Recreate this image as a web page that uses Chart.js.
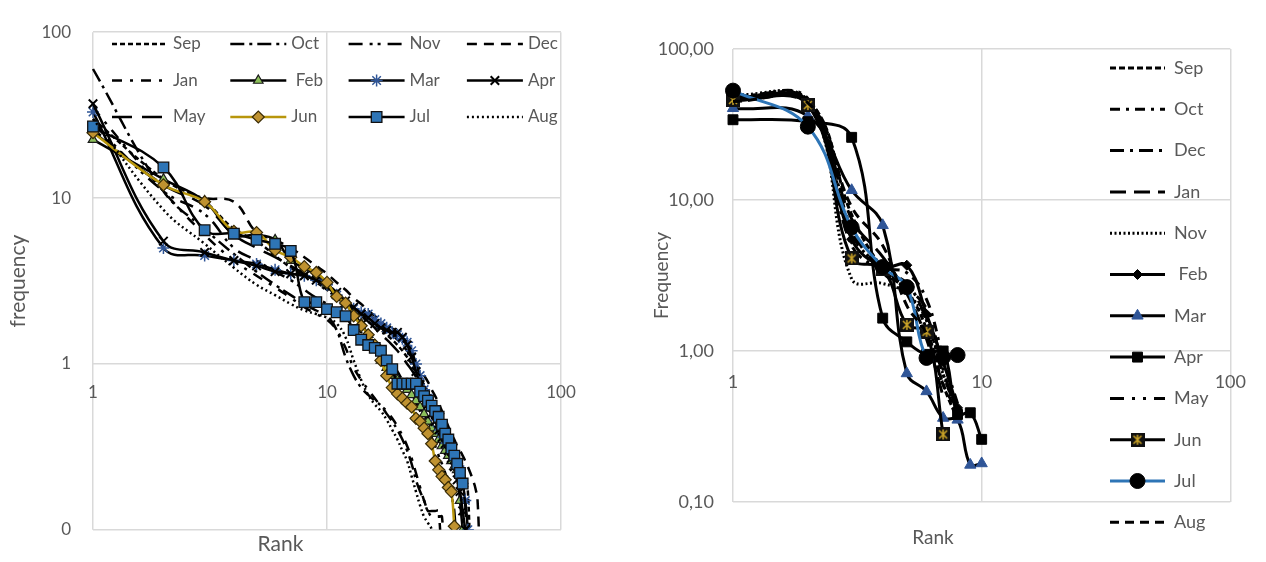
<!DOCTYPE html>
<html><head><meta charset="utf-8">
<script src="https://cdn.jsdelivr.net/npm/chart.js@4.4.1/dist/chart.umd.min.js"></script>
<style>
html,body{margin:0;padding:0;background:#fff;}
#wrap{position:relative;width:1266px;height:562px;overflow:hidden;background:#fff;}
#c1{position:absolute;left:0;top:0;}
#c2{position:absolute;left:620px;top:0;}
</style></head><body>
<div id="wrap"><canvas id="c1" width="620" height="562"></canvas><canvas id="c2" width="646" height="562"></canvas></div>
<script>
// ---------- DATA ----------
const months = ['Sep','Oct','Nov','Dec','Jan',' Feb','Mar','Apr','May','Jun','Jul','Aug'];
const rightLegendOrder = ['Sep','Oct','Dec','Jan','Nov',' Feb','Mar','Apr','May','Jun','Jul','Aug'];

const xTickValues = [1, 10, 100];
const xTickLabels = ['1', '10', '100'];
const yTickValues = [0.1, 1, 10, 100];
const leftYTickLabels = ['0', '1', '10', '100'];
const rightYTickLabels = ['0,10', '1,00', '10,00', '100,00'];

// Left panel: frequency by rank (rank = position in list, starting at 1)
const lSep = [30, 13, 9.5, 6.5, 5.5, 4.5, 3.8, 3.4, 3.1, 2.8, 2.5, 2.3, 2.1, 1.95, 1.8, 1.7, 1.6, 1.5, 1.4, 1.3, 1.2, 1.1, 1.0, 0.9, 0.82, 0.75, 0.68, 0.62, 0.56, 0.5, 0.45, 0.4, 0.36, 0.33, 0.3, 0.27, 0.25, 0.23, 0.2, 0.17, 0.06];
const lOct = [60, 11, 6.5, 4.6, 3.6, 3.0, 2.6, 2.3, 2.1, 1.95, 1.6, 1.1, 0.85, 0.72, 0.65, 0.6, 0.56, 0.5, 0.45, 0.4, 0.35, 0.3, 0.25, 0.2, 0.17, 0.15, 0.13, 0.13, 0.13, 0.13, 0.05];
const lNov = [28, 11, 8, 5, 4.2, 3.6, 3.2, 2.8, 2.5, 2.3, 2.1, 1.9, 1.7, 1.55, 1.4, 1.3, 1.2, 1.1, 1.0, 0.9, 0.8, 0.72, 0.65, 0.58, 0.52, 0.46, 0.4, 0.36, 0.32, 0.28, 0.25, 0.22, 0.19, 0.16, 0.13, 0.06];
const lDec = [26, 12, 10, 9.5, 6.2, 5.6, 5.0, 4.4, 3.9, 3.5, 3.1, 2.8, 2.5, 2.3, 2.1, 1.95, 1.8, 1.65, 1.5, 1.4, 1.3, 1.2, 1.1, 1.0, 0.92, 0.85, 0.78, 0.7, 0.64, 0.58, 0.52, 0.47, 0.42, 0.38, 0.35, 0.32, 0.3, 0.28, 0.26, 0.24, 0.22, 0.2, 0.18, 0.15, 0.06];
const lJan = [35, 11, 6, 4.2, 3.4, 2.9, 2.5, 2.2, 2.0, 1.85, 1.6, 1.25, 0.95, 0.8, 0.7, 0.62, 0.56, 0.52, 0.47, 0.42, 0.37, 0.32, 0.27, 0.22, 0.18, 0.15, 0.13, 0.12, 0.12, 0.12, 0.12, 0.05];
const lFeb = [22.5, 13, 9.6, 6.0, 6.0, 5.6, 4.2, 3.8, 3.4, 3.0, 2.6, 2.3, 2.0, 1.75, 1.5, 1.3, 1.05, 0.95, 0.85, 0.8, 0.74, 0.7, 0.65, 0.6, 0.55, 0.5, 0.45, 0.41, 0.38, 0.35, 0.32, 0.3, 0.28, 0.26, 0.24, 0.23, 0.15, 0.1];
const lMar = [33, 5.0, 4.5, 4.2, 4.0, 3.7, 3.5, 3.4, 3.2, 3.0, 2.6, 2.3, 2.15, 2.05, 2.0, 1.85, 1.75, 1.65, 1.55, 1.5, 1.42, 1.35, 1.2, 1.0, 0.85, 0.7, 0.62, 0.55, 0.48, 0.42, 0.38, 0.35, 0.33, 0.3, 0.28, 0.25, 0.23, 0.19, 0.15, 0.1];
const lApr = [37, 5.5, 4.7, 4.2, 3.9, 3.6, 3.5, 3.4, 3.2, 3.0, 2.7, 2.4, 2.2, 2.0, 1.9, 1.75, 1.65, 1.6, 1.55, 1.55, 1.45, 1.3, 1.1, 0.9, 0.75, 0.65, 0.57, 0.5, 0.45, 0.4, 0.36, 0.33, 0.3, 0.27, 0.24, 0.2, 0.17, 0.13, 0.1];
const lMay = [25, 12, 9, 6, 5, 4.4, 3.9, 3.5, 3.2, 2.9, 2.6, 2.35, 2.15, 1.95, 1.8, 1.65, 1.5, 1.4, 1.3, 1.2, 1.1, 1.0, 0.92, 0.84, 0.76, 0.7, 0.63, 0.57, 0.52, 0.47, 0.42, 0.38, 0.34, 0.3, 0.27, 0.24, 0.21, 0.18, 0.14, 0.06];
const lJun = [24.8, 12, 9.5, 6.3, 6.2, 4.85, 4.4, 3.86, 3.56, 3.1, 2.55, 2.33, 1.95, 1.7, 1.5, 1.3, 1.05, 0.85, 0.72, 0.66, 0.62, 0.58, 0.55, 0.47, 0.45, 0.41, 0.38, 0.33, 0.26, 0.23, 0.21, 0.2, 0.18, 0.17, 0.105];
const lJul = [27, 15.3, 6.4, 6.1, 5.6, 5.3, 4.8, 2.36, 2.36, 2.14, 2.05, 1.94, 1.6, 1.4, 1.3, 1.25, 1.2, 1.05, 0.93, 0.76, 0.76, 0.76, 0.76, 0.76, 0.68, 0.64, 0.6, 0.56, 0.52, 0.48, 0.43, 0.38, 0.35, 0.31, 0.28, 0.25, 0.22, 0.19];
const lAug = [30, 8.5, 5.3, 3.8, 3.0, 2.6, 2.3, 2.1, 2.0, 1.9, 1.75, 1.45, 1.05, 0.8, 0.65, 0.57, 0.52, 0.46, 0.4, 0.35, 0.3, 0.26, 0.21, 0.17, 0.14, 0.12, 0.11, 0.1, 0.05];

// Right panel
const rSep = [48, 46, 8, 3.5, 2.5, 1.4, 0.6, 0.35];
const rOct = [47, 47, 6, 3.6, 3.3, 2.2, 0.9, 0.45];
const rDec = [49, 45, 5, 3.4, 2.8, 1.6, 0.7, 0.4];
const rJan = [46, 43, 7.5, 4.2, 2.4, 1.2, 0.5];
const rNov = [50, 45, 3.0, 2.8, 2.4, 1.6, 0.7, 0.4];
const rFeb = [48, 44, 5.5, 3.6, 3.7, 1.75, 0.85, 0.42];
const rMar = [40.5, 36, 11.6, 6.8, 0.71, 0.54, 0.36, 0.35, 0.176, 0.18];
const rApr = [34, 33, 26, 1.65, 1.15, 0.95, 1.0, 0.38, 0.39, 0.26];
const rMay = [47, 44, 6.5, 3.3, 2.6, 1.9, 0.75, 0.38];
const rJun = [46, 42.5, 4.1, 3.5, 1.49, 1.34, 0.28];
const rJul = [53, 30.6, 6.6, 3.6, 2.65, 0.9, 0.91, 0.94];
const rAug = [45, 44, 9, 5.0, 2.0, 1.3, 0.6, 0.4];

const leftValues = [lSep, lOct, lNov, lDec, lJan, lFeb, lMar, lApr, lMay, lJun, lJul, lAug];
const rightValues = [rSep, rOct, rNov, rDec, rJan, rFeb, rMar, rApr, rMay, rJun, rJul, rAug];

// ---------- STYLES ----------
const GRID = '#d9d9d9';
const TXT = '#595959';
Chart.defaults.font.family = 'Lato, "Open Sans", sans-serif';
Chart.defaults.color = TXT;

// custom marker for right-panel Jun: black square with gold asterisk
const junMarker = document.createElement('canvas');
junMarker.width = 14; junMarker.height = 14;
(function(){
  const c = junMarker.getContext('2d');
  c.fillStyle = '#111'; c.fillRect(0,0,14,14);
  c.strokeStyle = '#c9a227'; c.lineWidth = 1.6;
  c.beginPath();
  c.moveTo(3,3); c.lineTo(11,11); c.moveTo(11,3); c.lineTo(3,11);
  c.moveTo(7,2); c.lineTo(7,12);
  c.stroke();
})();

const leftStyles = {
  'Sep': {dash:[5,3]},
  'Oct': {dash:[14,5,3,5]},
  'Nov': {dash:[14,7,3,5,3,7]},
  'Dec': {dash:[10,7]},
  'Jan': {dash:[10,8,3,8]},
  ' Feb': {ps:'triangle', r:5.5, bg:'#8cbf5a', bc:'#1a1a1a', bw:1.2},
  'Mar': {ps:'star', r:6, bg:'#2f5597', bc:'#2f5597', bw:1.5},
  'Apr': {ps:'crossRot', r:6, bg:'#000', bc:'#000', bw:2},
  'May': {dash:[20,10]},
  'Jun': {color:'#b8960c', ps:'rectRot', r:6, bg:'#bf9230', bc:'#3a2c06', bw:1.2},
  'Jul': {ps:'rect', r:7.5, bg:'#2e75b6', bc:'#111', bw:1.3},
  'Aug': {dash:[2,3]}
};
const rightStyles = {
  'Sep': {dash:[6,3]},
  'Oct': {dash:[10,6,3,6]},
  'Nov': {dash:[2,2.5]},
  'Dec': {dash:[14,6,3,6]},
  'Jan': {dash:[16,8]},
  ' Feb': {ps:'rectRot', r:5, bg:'#000', bc:'#000', bw:1},
  'Mar': {ps:'triangle', r:6.5, bg:'#2f5597', bc:'#2f5597', bw:1},
  'Apr': {ps:'rect', r:7, bg:'#000', bc:'#000', bw:1},
  'May': {dash:[14,8,3,8,3,8]},
  'Jun': {ps:junMarker, r:7, bg:'#000', bc:'#000', bw:0},
  'Jul': {color:'#2e75b6', ps:'circle', r:7.5, bg:'#000', bc:'#000', bw:1},
  'Aug': {dash:[9,6]}
};

function makeDatasets(values, styles, width) {
  return months.map((m, i) => {
    const s = styles[m];
    return {
      label: m,
      data: values[i].map((v, k) => ({x: k + 1, y: v})),
      borderColor: s.color || '#000',
      borderWidth: width,
      borderDash: s.dash || [],
      tension: 0.4,
      fill: false,
      pointStyle: s.ps || 'circle',
      pointRadius: s.ps ? s.r : 0,
      pointHoverRadius: s.ps ? s.r : 0,
      pointBackgroundColor: s.bg || '#000',
      pointBorderColor: s.bc || '#000',
      pointBorderWidth: s.bw || 0,
      order: months.length - i,
      clip: {left: 10, top: 10, right: 10, bottom: 0}
    };
  });
}

function drawMarker(ctx, ds, x, y) {
  const ps = ds.pointStyle, r = ds.pointRadius;
  if (!r) return;
  ctx.save();
  ctx.setLineDash([]);
  ctx.fillStyle = ds.pointBackgroundColor;
  ctx.strokeStyle = ds.pointBorderColor;
  ctx.lineWidth = ds.pointBorderWidth;
  if (ps instanceof HTMLCanvasElement) {
    ctx.drawImage(ps, x - ps.width / 2, y - ps.height / 2);
  } else if (Chart.helpers && Chart.helpers.drawPoint) {
    Chart.helpers.drawPoint(ctx, {pointStyle: ps, radius: r, rotation: 0, borderWidth: ds.pointBorderWidth}, x, y);
  } else {
    ctx.beginPath(); ctx.arc(x, y, r, 0, Math.PI * 2); ctx.fill();
  }
  ctx.restore();
}

const gridLegend = {
  id: 'gridLegend',
  afterDraw(chart, args, o) {
    const ctx = chart.ctx, ca = chart.chartArea;
    ctx.save();
    if (o.clip) { ctx.beginPath(); ctx.rect(ca.left, ca.top, ca.right - ca.left, ca.bottom - ca.top); ctx.clip(); }
    o.order.forEach((label, k) => {
      const ds = chart.data.datasets.find(d => d.label === label);
      const col = k % o.cols, row = Math.floor(k / o.cols);
      const x0 = o.x0 + col * o.dx, y = o.y0 + row * o.dy;
      ctx.beginPath();
      ctx.setLineDash(ds.borderDash || []);
      ctx.lineWidth = o.lineWidth;
      ctx.strokeStyle = ds.borderColor;
      ctx.moveTo(x0, y); ctx.lineTo(x0 + o.len, y);
      ctx.stroke();
      ctx.setLineDash([]);
      drawMarker(ctx, ds, x0 + o.len / 2, y);
      ctx.fillStyle = TXT;
      ctx.font = o.font;
      ctx.textBaseline = 'middle';
      ctx.textAlign = 'left';
      ctx.fillText(label, x0 + o.len + o.gap, y);
    });
    ctx.restore();
  }
};

function logAxis(vals, labels, fontSize, pad, extra) {
  return Object.assign({
    type: 'logarithmic',
    min: vals[0], max: vals[vals.length - 1],
    afterBuildTicks: s => { s.ticks = vals.map(v => ({value: v})); },
    ticks: {callback: (v, i) => labels[i], autoSkip: false, maxRotation: 0, color: TXT,
            font: {size: fontSize}, padding: pad},
    grid: {color: GRID, lineWidth: 1.5, drawTicks: false},
    border: {display: false}
  }, extra);
}

// ---------- LEFT CHART ----------
new Chart(document.getElementById('c1'), {
  type: 'line',
  data: {datasets: makeDatasets(leftValues, leftStyles, 2.5)},
  plugins: [gridLegend],
  options: {
    responsive: false, animation: false, devicePixelRatio: 1,
    layout: {padding: {left: 0, right: 59, top: 17, bottom: 0}},
    scales: {
      x: logAxis(xTickValues, xTickLabels, 17, 18, {position: {y: 1}}),
      y: logAxis(yTickValues, leftYTickLabels, 17, 22, {
        position: 'left',
        afterFit: s => { s.width = 93; },
        title: {display: true, text: 'frequency', color: TXT, font: {size: 21}, padding: {top: 6, bottom: 0}}
      })
    },
    plugins: {
      legend: {display: false},
      tooltip: {enabled: false},
      title: {display: true, text: 'Rank', position: 'bottom', color: TXT,
              font: {size: 21, weight: 'normal'}, padding: {top: 1.4, bottom: 1.4}},
      gridLegend: {order: months, cols: 4, x0: 112, dx: 118.3, y0: 44, dy: 36.5,
                   len: 56, gap: 5, lineWidth: 2.5, font: '17px Lato, "Open Sans", sans-serif', clip: true}
    }
  }
});

// ---------- RIGHT CHART ----------
new Chart(document.getElementById('c2'), {
  type: 'line',
  data: {datasets: makeDatasets(rightValues, rightStyles, 3)},
  plugins: [gridLegend],
  options: {
    responsive: false, animation: false, devicePixelRatio: 1,
    layout: {padding: {left: 0, right: 20, top: 49, bottom: 0}},
    scales: {
      x: logAxis(xTickValues, xTickLabels, 18, 20, {position: {y: 1}}),
      y: logAxis(yTickValues, rightYTickLabels, 18, 19, {
        position: 'left',
        afterFit: s => { s.width = 113; },
        title: {display: true, text: 'Frequency', color: TXT, font: {size: 19}, padding: {top: 30.6, bottom: 0}}
      })
    },
    plugins: {
      legend: {display: false},
      tooltip: {enabled: false},
      title: {display: true, text: 'Rank', position: 'bottom', color: TXT,
              font: {size: 19, weight: 'normal'}, padding: {top: 24.8, bottom: 12.4}},
      gridLegend: {order: rightLegendOrder, cols: 1, x0: 490, dx: 0, y0: 68, dy: 41.3,
                   len: 55, gap: 9, lineWidth: 3, font: '18px Lato, "Open Sans", sans-serif', clip: false}
    }
  }
});
</script>
</body></html>
